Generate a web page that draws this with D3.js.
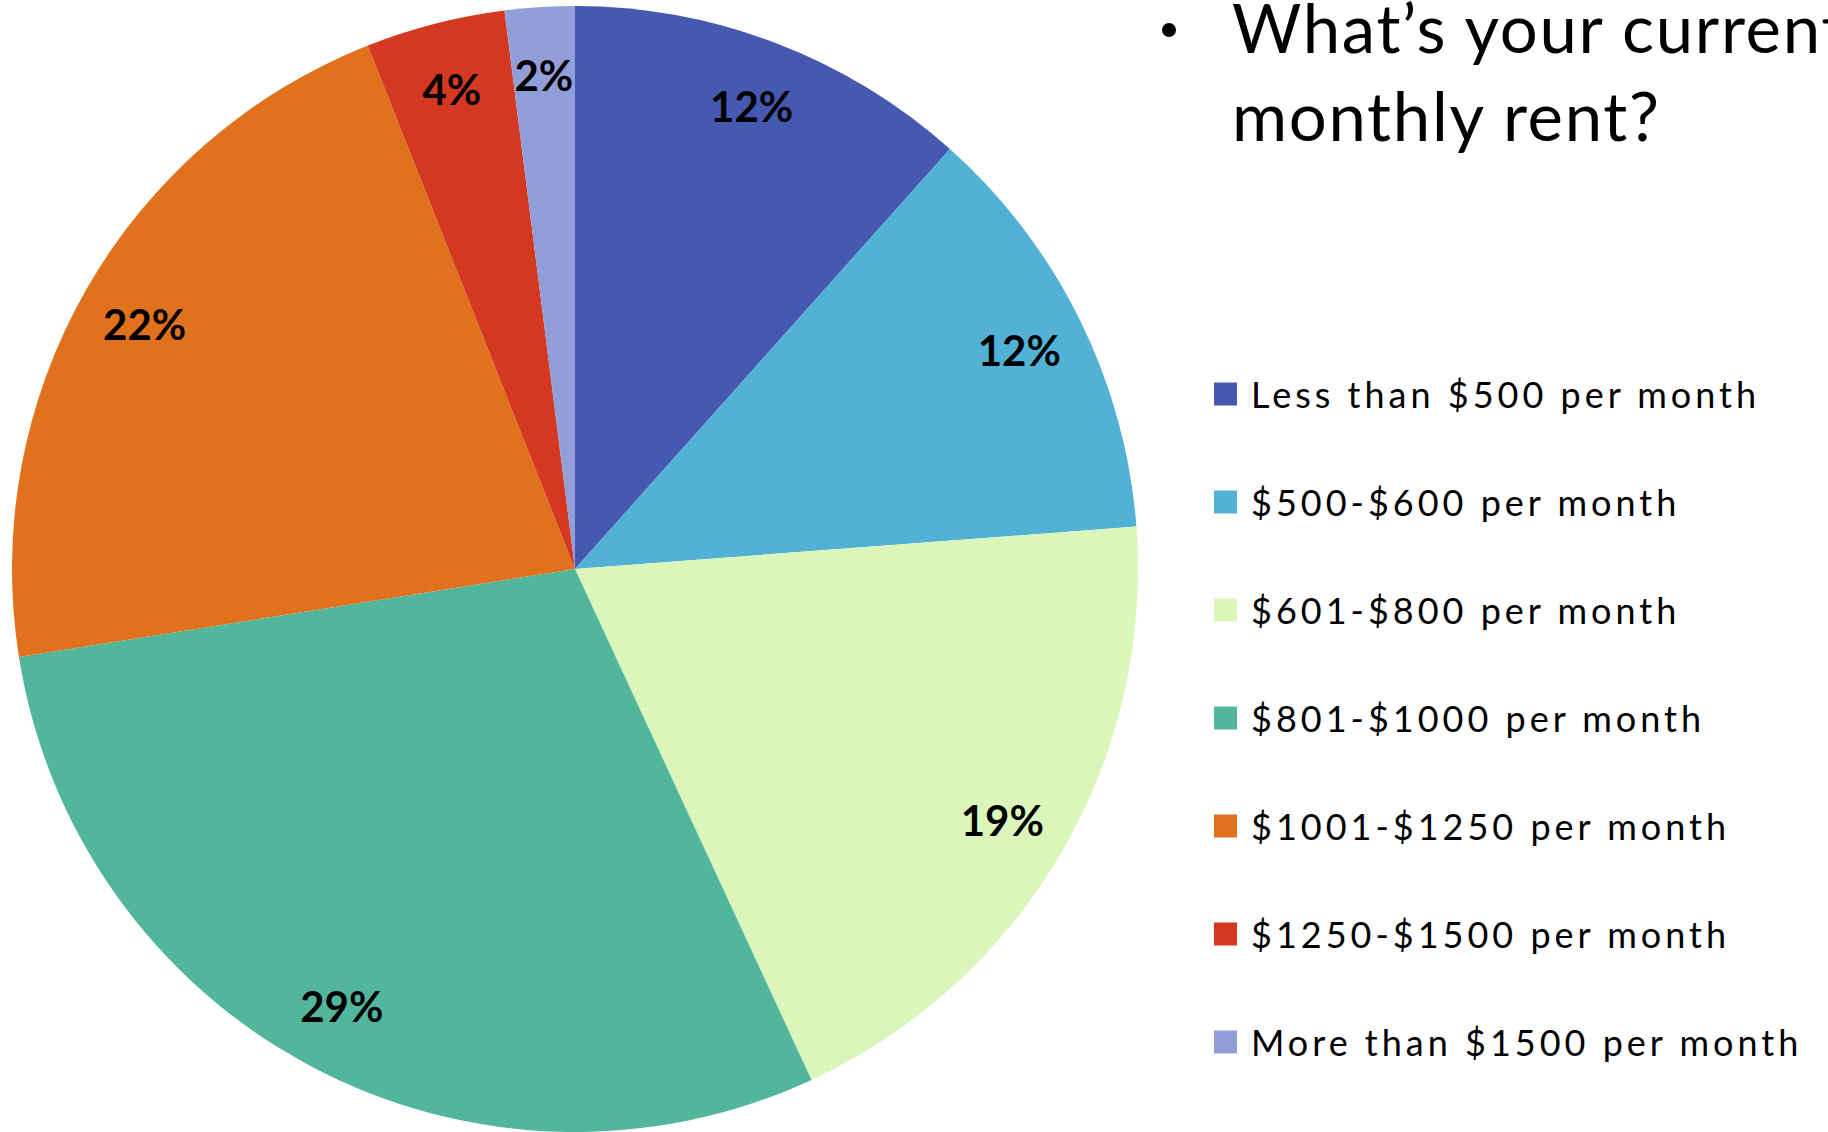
<!DOCTYPE html>
<html><head><meta charset="utf-8">
<script src="https://cdn.jsdelivr.net/npm/d3@7"></script>
<style>body{margin:0;background:#fff;overflow:hidden}svg{display:block}</style>
</head><body>
<svg id="c" width="1828" height="1132"></svg>
<script>
const categories = ["Less than $500 per month","$500-$600 per month","$601-$800 per month","$801-$1000 per month","$1001-$1250 per month","$1250-$1500 per month","More than $1500 per month"];
const values = [11.6, 12.2, 19.3, 29.4, 21.5, 4.0, 2.0];
const colors = ["#4559B0","#52B2D6","#DBF6BA","#52B69D","#E0711D","#D43820","#929ED8"];
const titleLines = ["What\u2019s your current","monthly rent?"];

const svg = d3.select("#c");
const font = "Lato, 'Open Sans', sans-serif";
const cx = 575, cy = 569, R = 563;
const total = d3.sum(values);

const pie = d3.pie().sort(null).value(d => d)(values);
const arc = d3.arc().innerRadius(0).outerRadius(R);
const labelArc = d3.arc().innerRadius(R*0.88).outerRadius(R*0.88);

const g = svg.append("g").attr("transform", `translate(${cx},${cy})`);
g.selectAll("path").data(pie).join("path")
  .attr("d", arc).attr("fill", (d,i) => colors[i]);
g.selectAll("text").data(pie).join("text")
  .attr("transform", d => `translate(${labelArc.centroid(d)})`)
  .attr("text-anchor","middle").attr("dominant-baseline","central")
  .attr("font-family", font).attr("font-weight","bold").attr("font-size",42)
  .attr("fill","#000")
  .text(d => Math.round(d.value/total*100) + "%");

// legend
const ly = d3.scalePoint().domain(categories).range([394, 1042]);
const leg = svg.append("g");
leg.selectAll("rect").data(categories).join("rect")
  .attr("x",1214).attr("y",d => ly(d)-11.5).attr("width",23).attr("height",23)
  .attr("fill",(d,i)=>colors[i]);
leg.selectAll("text").data(categories).join("text")
  .attr("x",1251).attr("y",d => ly(d)).attr("dominant-baseline","central")
  .attr("font-family",font).attr("font-size",36).attr("letter-spacing",4).attr("fill","#000")
  .text(d=>d);

// title
svg.append("circle").attr("cx",1169).attr("cy",30).attr("r",7).attr("fill","#000");
svg.selectAll("text.t").data(titleLines).join("text").attr("class","t")
  .attr("x",1232).attr("y",(d,i)=>53 + i*88)
  .attr("font-family",font).attr("font-size",67).attr("letter-spacing",1.7).attr("fill","#000")
  .text(d=>d);
</script>
</body></html>
